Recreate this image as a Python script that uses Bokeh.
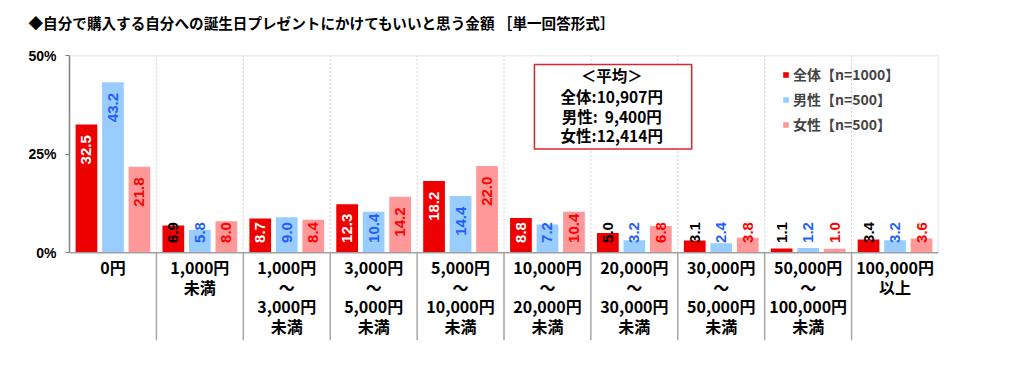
from bokeh.plotting import figure
from bokeh.models import Range1d, FixedTicker, Legend, LegendItem, Title
from bokeh.core.properties import value
from bokeh.embed import file_html
from bokeh.resources import INLINE
import math

categories = ["0円", "1,000円\n未満", "1,000円\n～\n3,000円\n未満", "3,000円\n～\n5,000円\n未満",
              "5,000円\n～\n10,000円\n未満", "10,000円\n～\n20,000円\n未満", "20,000円\n～\n30,000円\n未満",
              "30,000円\n～\n50,000円\n未満", "50,000円\n～\n100,000円\n未満", "100,000円\n以上"]
total = [32.5, 6.9, 8.7, 12.3, 18.2, 8.8, 5.0, 3.1, 1.1, 3.4]
male = [43.2, 5.8, 9.0, 10.4, 14.4, 7.2, 3.2, 2.4, 1.2, 3.2]
female = [21.8, 8.0, 8.4, 14.2, 22.0, 10.4, 6.8, 3.8, 1.0, 3.6]
series_names = ["全体【n=1000】", "男性【n=500】", "女性【n=500】"]
avg_lines = ["＜平均＞", "全体:10,907円", "男性:\u00a0\u00a09,400円", "女性:12,414円"]
y_ticks = [0, 25, 50]
y_tick_labels = {0: "0%", 25: "25%", 50: "50%"}
title = "◆自分で購入する自分への誕生日プレゼントにかけてもいいと思う金額 ［単一回答形式］"

JP = value("Noto Sans CJK JP")
NUM = value("Liberation Sans")

bar_colors = ["#EE0000", "#99CCFF", "#FF9999"]
n = len(categories)
centers = [i + 0.5 for i in range(n)]
offsets = [-0.305, 0.0, 0.305]
bw = 0.25
ybot = -22.22

p = figure(width=1005, height=370, output_backend="svg", toolbar_location=None,
           title_location=None,
           x_range=Range1d(0, n), y_range=Range1d(ybot, 50),
           min_border_left=69, min_border_right=67, min_border_top=54, min_border_bottom=30)
p.xaxis.visible = False
p.xgrid.visible = False
p.ygrid.visible = False
p.outline_line_color = None
p.background_fill_color = "white"

# spacer (closest to frame), then the real title above it
p.add_layout(Title(text=" ", text_font_size="1px", standoff=11), "above")
p.add_layout(Title(text=title, text_font="Noto Sans CJK JP", text_font_style="bold",
                   text_font_size="14.6px", align="left", offset=-41, standoff=18,
                   text_color="black"), "above")

yax = p.yaxis[0]
yax.ticker = FixedTicker(ticks=y_ticks)
yax.major_label_overrides = y_tick_labels
yax.bounds = (0, 50)
yax.axis_line_color = "#808080"
yax.axis_line_width = 1.5
yax.major_tick_line_color = "#808080"
yax.major_tick_in = 0
yax.major_tick_out = 4
yax.minor_tick_line_color = None
yax.major_label_text_font = "Liberation Sans"
yax.major_label_text_font_style = "bold"
yax.major_label_text_font_size = "14px"
yax.major_label_text_color = "black"
yax.major_label_standoff = 9

# separators
bx = list(range(1, n))
p.segment(x0=bx, x1=bx, y0=[0] * len(bx), y1=[50] * len(bx), line_color="#D0D0D0", line_dash="2 2", line_width=1)
p.segment(x0=bx, x1=bx, y0=[ybot] * len(bx), y1=[0] * len(bx), line_color="#A6A6A6", line_width=1.5)
# plot box top and right
p.segment(x0=[0, n], x1=[n, n], y0=[50, 0], y1=[50, 50], line_color="#D9D9D9", line_width=1.5)

renderers = []
for k, vals in enumerate([total, male, female]):
    xs = [c + offsets[k] for c in centers]
    r = p.vbar(x=xs, top=vals, width=bw, bottom=0, fill_color=bar_colors[k], line_color=None)
    renderers.append(r)

# x axis line
p.segment(x0=[0], x1=[n], y0=[0], y1=[0], line_color="#A0A0A0", line_width=1.5)

# value labels
for k, vals in enumerate([total, male, female]):
    xs = [c + offsets[k] for c in centers]
    ys = [max(2.5, v - 10.1) for v in vals]
    if k == 0:
        cols = ["white" if v >= 8 else "black" for v in vals]
    elif k == 1:
        cols = ["#1F5FFF"] * n
    else:
        cols = ["#FF0000"] * n
    p.text(x=xs, y=ys, text=[f"{v:.1f}" for v in vals], angle=math.pi / 2,
           text_align="left", text_baseline="middle", text_color=cols,
           text_font=NUM, text_font_style="bold", text_font_size="15px")

# category labels
p.text(x=centers, y=[-0.55] * n, text=categories, text_align="center", text_baseline="top",
       text_font=JP, text_font_style="bold", text_font_size="16px", text_line_height=0.82,
       text_color="black")

# average box
p.quad(left=[5.35], right=[7.16], top=[47.7], bottom=[26.3], fill_color="white",
       line_color="#D9262B", line_width=1.5)
p.text(x=[6.24] * 4, y=[45.0, 39.7, 34.7, 29.9], text=avg_lines, text_align="center",
       text_baseline="middle", text_font=JP, text_font_style="bold", text_font_size="15.5px",
       text_color="black")

legend = Legend(items=[LegendItem(label=series_names[k], renderers=[renderers[k]]) for k in range(3)],
                location=(713, 206), orientation="vertical", padding=0, margin=0,
                border_line_color=None, background_fill_alpha=0,
                glyph_width=7, glyph_height=7, label_standoff=4, label_height=20, spacing=5,
                label_text_font="Noto Sans CJK JP", label_text_font_style="bold",
                label_text_font_size="14px")
p.add_layout(legend, "center")

open("out.html", "w").write(file_html(p, INLINE))
